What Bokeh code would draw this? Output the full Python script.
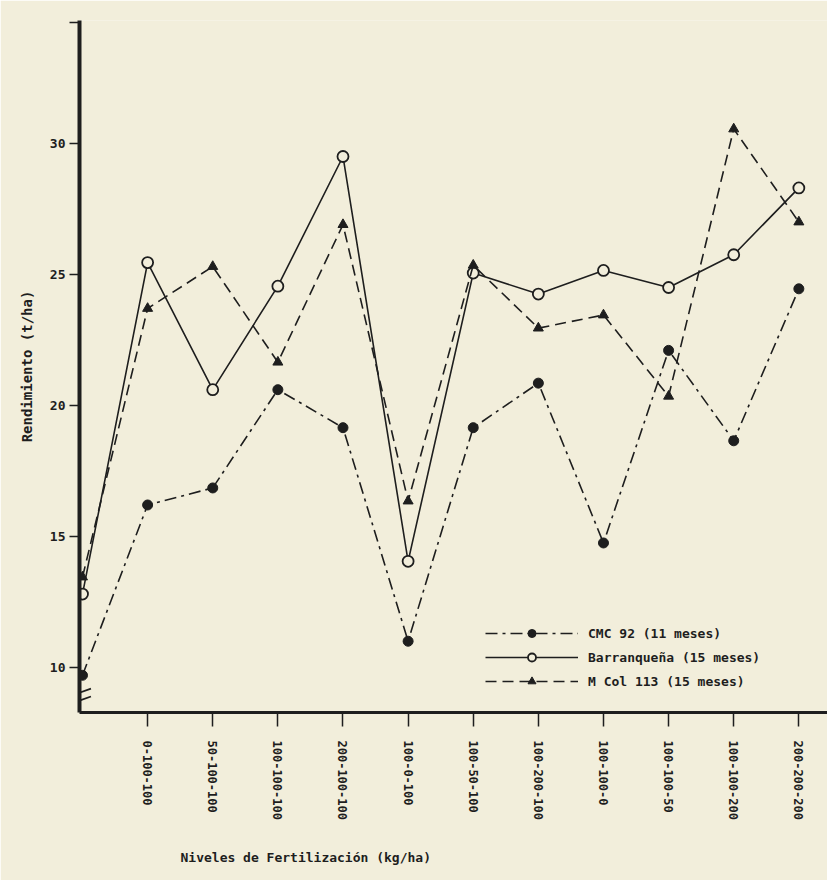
from bokeh.plotting import figure
from bokeh.models import FixedTicker, Legend, LegendItem, Title, PolyAnnotation
from bokeh.embed import file_html
from bokeh.resources import INLINE

# ---------------- data ----------------
levels = ["", "0-100-100", "50-100-100", "100-100-100", "200-100-100", "100-0-100",
          "100-50-100", "100-200-100", "100-100-0", "100-100-50", "100-100-200",
          "200-200-200"]
cmc92 = [9.7, 16.2, 16.85, 20.6, 19.15, 11.0, 19.15, 20.85, 14.75, 22.1, 18.65, 24.45]
barranquena = [12.8, 25.45, 20.6, 24.55, 29.5, 14.05, 25.05, 24.25, 25.15, 24.5, 25.75, 28.3]
mcol113 = [13.45, 23.7, 25.3, 21.65, 26.9, 16.35, 25.35, 22.95, 23.45, 20.35, 30.55, 27.0]
y_ticks = [10, 15, 20, 25, 30]
series_names = ["CMC 92 (11 meses)", "Barranqueña (15 meses)", "M Col 113 (15 meses)"]

xs = list(range(len(levels)))

BG = "#f2eedb"
INK = "#1e1e1e"
FONT = "DejaVu Sans Mono"

p = figure(frame_width=748, frame_height=692, x_range=(-0.046, 11.44), y_range=(8.28, 34.69),
           output_backend="svg", toolbar_location=None,
           min_border_left=79, min_border_right=0, min_border_top=20, min_border_bottom=4)
p.background_fill_color = BG
p.border_fill_color = BG
p.outline_line_color = None
p.grid.visible = False

# y axis
ya = p.yaxis[0]
top_tick = 34.6
ya.ticker = FixedTicker(ticks=y_ticks + [top_tick])
ya.major_label_overrides = {top_tick: ""}
ya.axis_line_width = 4
ya.axis_line_color = INK
ya.major_tick_in = 0
ya.major_tick_out = 10
ya.major_tick_line_width = 1.5
ya.major_tick_line_color = INK
ya.minor_tick_line_color = None
ya.major_label_standoff = 4
ya.major_label_text_font = FONT
ya.major_label_text_font_size = "13px"
ya.major_label_text_font_style = "bold"
ya.major_label_text_color = INK
ya.axis_label = "Rendimiento (t/ha)"
ya.axis_label_text_font = FONT
ya.axis_label_text_font_size = "14px"
ya.axis_label_text_font_style = "bold"
ya.axis_label_text_color = INK
ya.axis_label_standoff = 12

# x axis
xa = p.xaxis[0]
xa.ticker = FixedTicker(ticks=xs[1:])
xa.major_label_overrides = {i: levels[i] for i in xs[1:]}
xa.major_label_orientation = "vertical"
xa.axis_line_width = 3
xa.axis_line_color = INK
xa.major_tick_in = 0
xa.major_tick_out = 14
xa.major_tick_line_width = 1.5
xa.major_tick_line_color = INK
xa.minor_tick_line_color = None
xa.major_label_standoff = 14
xa.major_label_text_font = FONT
xa.major_label_text_font_size = "12px"
xa.major_label_text_font_style = "bold"
xa.major_label_text_color = INK

# series
r1l = p.line(xs, cmc92, line_color=INK, line_width=1.6, line_dash="12 5 3 5")
r1m = p.scatter(xs, cmc92, marker="circle", size=10, fill_color=INK, line_color=INK)
r2l = p.line(xs, barranquena, line_color=INK, line_width=1.6)
r2m = p.scatter(xs, barranquena, marker="circle", size=11, fill_color=BG,
                line_color=INK, line_width=1.8)
r3l = p.line(xs, mcol113, line_color=INK, line_width=1.6, line_dash="11 6")
r3m = p.scatter(xs, mcol113, marker="triangle", size=10, fill_color=INK, line_color=INK)

legend = Legend(items=[
    LegendItem(label=series_names[0], renderers=[r1l, r1m]),
    LegendItem(label=series_names[1], renderers=[r2l, r2m]),
    LegendItem(label=series_names[2], renderers=[r3l, r3m]),
], location=(406, 21), glyph_width=93, glyph_height=20, label_height=20, spacing=4,
    padding=0, margin=0, border_line_color=None, background_fill_alpha=0,
    label_standoff=10, label_text_font=FONT, label_text_font_size="13px",
    label_text_font_style="bold", label_text_color=INK)
p.add_layout(legend)

# x axis title, below the tick labels and left of centre as in the original
p.add_layout(Title(text="Niveles de Fertilización (kg/ha)", align="left", offset=101,
                   standoff=50, text_font=FONT, text_font_size="13px",
                   text_font_style="bold", text_color=INK), "below")

# axis break marks
for yb in (8.97, 8.67):
    p.add_layout(PolyAnnotation(xs=[-0.12, 0.13], ys=[yb, yb + 0.22], fill_alpha=0,
                                line_color=INK, line_alpha=1.0, line_width=1.8))

open("out.html", "w").write(file_html(p, INLINE))
